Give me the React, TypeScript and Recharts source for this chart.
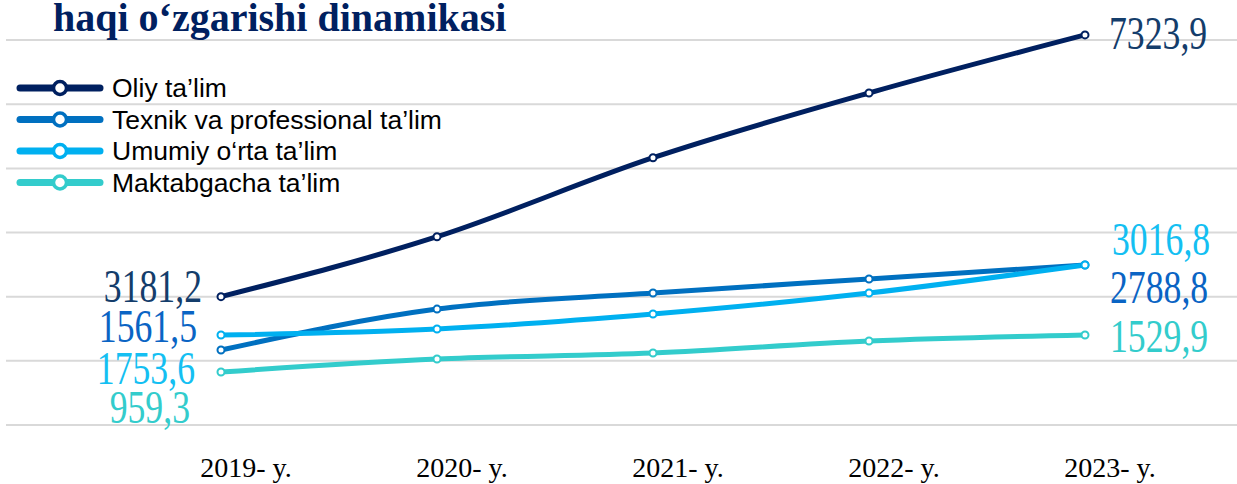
import React from "react";
import {
  LineChart,
  Line,
  XAxis,
  YAxis,
  CartesianGrid,
  Legend,
  LabelList,
} from "recharts";

// years on the x axis
const years = ["2019- y.", "2020- y.", "2021- y.", "2022- y.", "2023- y."];

// values per education level (end values as labelled, middle ones)
const oliy = [3181.2, 4130, 5380, 6405, 7323.9];
const texnik = [1561.5, 2153, 2385, 2587, 2788.8];
const umumiy = [1753.6, 1862, 2133, 2512, 3016.8];
const maktabgacha = [959.3, 1160, 1252, 1437, 1529.9];

const data = years.map((year, i) => ({
  year,
  oliy: oliy[i],
  texnik: texnik[i],
  umumiy: umumiy[i],
  maktabgacha: maktabgacha[i],
}));

// the source chart is not on one common scale: every line gets its own hidden axis
const series = [
  { key: "oliy", name: "Oliy ta’lim", color: "#002060", label: "#143d6b", domain: [1150, 7750], start: [-19, 5], end: [24, 14] },
  { key: "texnik", name: "Texnik va professional ta’lim", color: "#0070c0", label: "#0a64c4", domain: [479, 6500], start: [-24, -8], end: [25, 38] },
  { key: "umumiy", name: "Umumiy o‘rta ta’lim", color: "#00b0f0", label: "#14bff2", domain: [130, 7655], start: [-26, 49], end: [27, -10] },
  { key: "maktabgacha", name: "Maktabgacha ta’lim", color: "#33cccc", label: "#33cccc", domain: [142, 6573], start: [-31, 51], end: [25, 17] },
];

// horizontal grid: 7 lines, bottom of plot up to 7200 of a 0..7800 frame
const gridTicks = [0, 1200, 2400, 3600, 4800, 6000, 7200];
const gridMax = 7800;

const fmt = (v: number) => v.toFixed(1).replace(".", ",");

const endLabel = (s: (typeof series)[number]) => (props: any) => {
  const { x, y, value, index } = props;
  const last = index === years.length - 1;
  if (index !== 0 && !last) return null;
  const [dx, dy] = last ? s.end : s.start;
  return (
    <text
      transform={`translate(${x + dx},${y + dy}) scale(0.76,1)`}
      textAnchor={last ? "start" : "end"}
      fill={s.label}
      fontFamily="'Liberation Serif', 'Times New Roman', serif"
      fontSize={47}
    >
      {fmt(Number(value))}
    </text>
  );
};

const YearTick = ({ x, y, payload }: any) => (
  <text
    x={x + 25}
    y={y + 52}
    textAnchor="middle"
    fill="#000"
    fontFamily="'Liberation Serif', 'Times New Roman', serif"
    fontSize={28}
  >
    {payload.value}
  </text>
);

const renderLegend = ({ payload }: any) => {
  const items = [...(payload || [])].sort(
    (a: any, b: any) =>
      series.findIndex((s) => s.key === a.dataKey) -
      series.findIndex((s) => s.key === b.dataKey)
  );
  return (
    <svg width={470} height={140}>
      {items.map((p: any, i: number) => {
        const cy = 28 + i * 31.5;
        return (
          <g key={p.dataKey}>
            <line x1={20} x2={100} y1={cy} y2={cy} stroke={p.color} strokeWidth={7} strokeLinecap="round" />
            <circle cx={60} cy={cy} r={6.5} fill="#fff" stroke={p.color} strokeWidth={3.5} />
            <text
              x={112}
              y={cy + 9}
              fontSize={26.5}
              fontFamily="'Liberation Sans', Arial, sans-serif"
              fill="#000"
            >
              {p.value}
            </text>
          </g>
        );
      })}
    </svg>
  );
};

export default function App() {
  return (
    <div style={{ position: "absolute", left: 0, top: 0, width: 1237, height: 484, background: "#fff" }}>
      <LineChart
        width={1237}
        height={484}
        data={data}
        margin={{ top: 8, right: 0, left: 6, bottom: 0 }}
      >
        <CartesianGrid
          yAxisId="oliy"
          vertical={false}
          stroke="#d9d9d9"
          strokeWidth={2}
          horizontalCoordinatesGenerator={({ offset }: any) =>
            gridTicks.map((t) => offset.top + offset.height * (1 - t / gridMax))
          }
        />
        <XAxis
          dataKey="year"
          padding={{ left: 215, right: 152 }}
          axisLine={false}
          tickLine={false}
          tickSize={0}
          tickMargin={0}
          height={59}
          interval={0}
          tick={<YearTick />}
        />
        {series.map((s) => (
          <YAxis key={s.key} yAxisId={s.key} hide domain={s.domain} />
        ))}
        <Legend
          content={renderLegend}
          layout="horizontal"
          verticalAlign="middle"
          align="center"
          wrapperStyle={{ left: 0, top: 60, width: 470, height: 140 }}
        />
        {series.map((s) => (
          <Line
            key={s.key}
            yAxisId={s.key}
            type="monotone"
            dataKey={s.key}
            name={s.name}
            stroke={s.color}
            strokeWidth={5}
            dot={{ r: 3.5, fill: "#fff", stroke: s.color, strokeWidth: 2 }}
            activeDot={false}
            isAnimationActive={false}
          >
            <LabelList dataKey={s.key} content={endLabel(s)} />
          </Line>
        ))}
      </LineChart>
      <svg width={700} height={50} style={{ position: "absolute", left: 0, top: 0 }}>
        <text
          x={53}
          y={31}
          fill="#002060"
          fontWeight="bold"
          fontSize={40}
          fontFamily="'Liberation Serif', 'Times New Roman', serif"
        >
          haqi o‘zgarishi dinamikasi
        </text>
      </svg>
    </div>
  );
}
